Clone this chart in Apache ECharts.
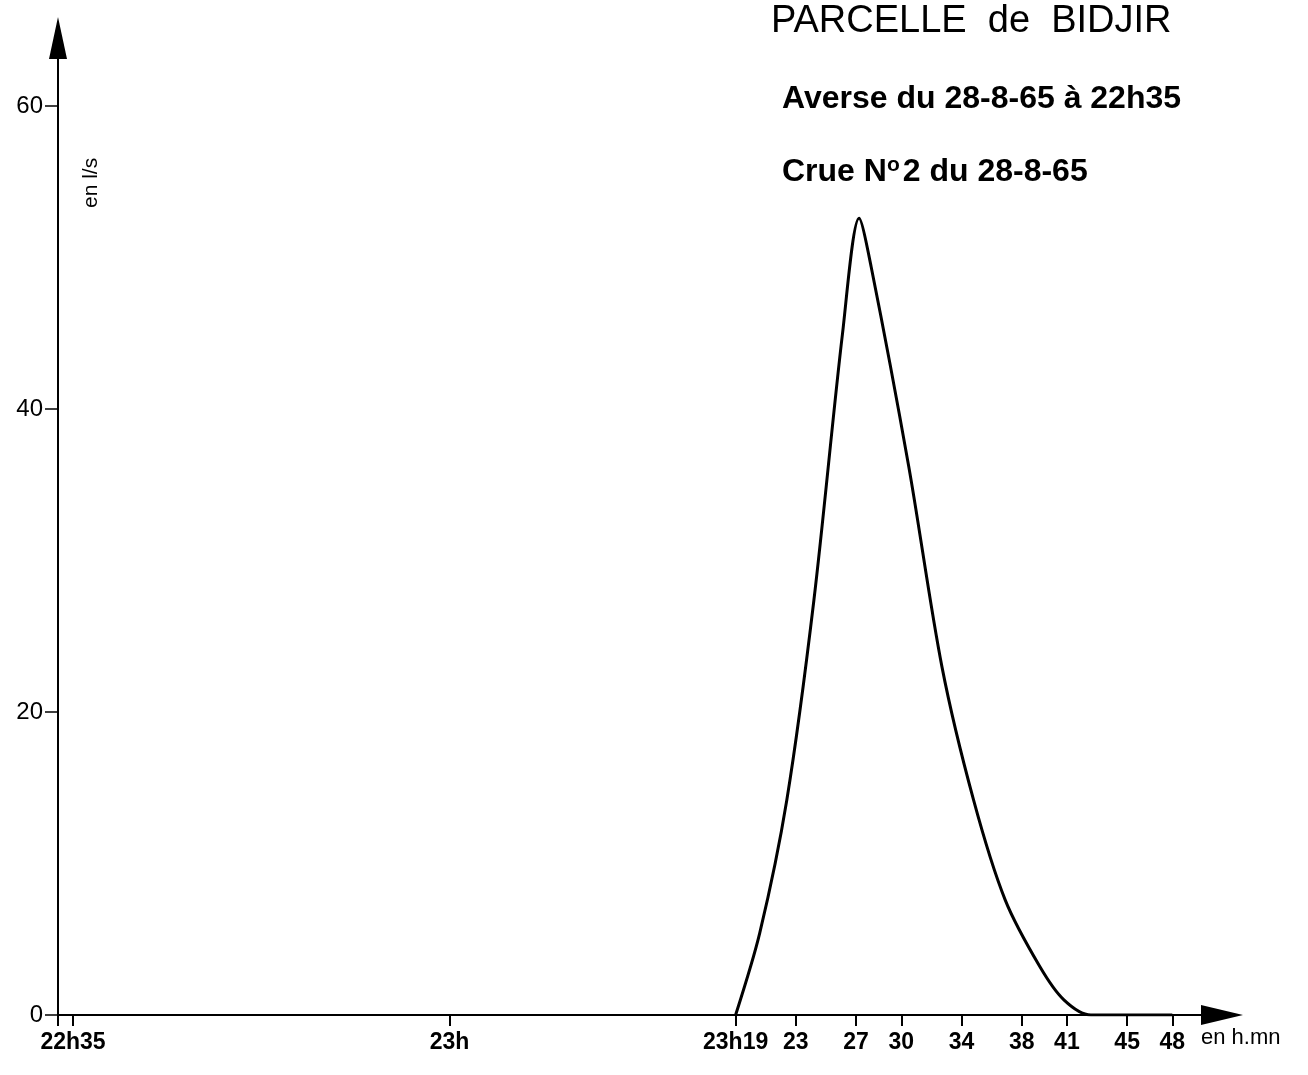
<!DOCTYPE html>
<html>
<head>
<meta charset="utf-8" />
<title>Parcelle de Bidjir</title>
<script src="https://cdn.jsdelivr.net/npm/echarts@6/dist/echarts.min.js"></script>
<style>
  html, body { margin: 0; padding: 0; background: #fff; }
  #chart { width: 1308px; height: 1075px; }
</style>
</head>
<body>
<div id="chart"></div>
<script>
// time in minutes after 22h00, discharge in l/s
var flowMinutes = [79, 80.6, 82.4, 84.2, 86.1, 87.2, 88.0, 90.5, 92.7, 94.8, 96.9, 99.2, 100.8, 102.6, 105, 108];
var flowValues  = [0, 5.4, 14.2, 27.4, 45.0, 52.6, 49.4, 36.2, 23.0, 14.2, 7.6, 3.2, 1.0, 0, 0, 0];

var xTickValues = [34, 35, 60, 79, 83, 87, 90, 94, 98, 101, 105, 108];
var xLabelValues = [35, 60, 79, 83, 87, 90, 94, 98, 101, 105, 108];
var xLabelTexts = ['22h35', '23h', '23h19', '23', '27', '30', '34', '38', '41', '45', '48'];
var yTickValues = [0, 20, 40, 60];

var chart = echarts.init(document.getElementById('chart'));

var data = [];
for (var i = 0; i < flowMinutes.length; i++) {
  data.push([flowMinutes[i], flowValues[i]]);
}

var font = '"Liberation Sans", Arial, sans-serif';

var option = {
  backgroundColor: '#fff',
  animation: false,
  title: [{
    text: 'PARCELLE  de  BIDJIR',
    left: 766, top: -2,
    textStyle: { fontFamily: font, fontSize: 38, fontWeight: 'normal', color: '#000' }
  }, {
    text: 'Averse du 28-8-65 à 22h35',
    left: 777, top: 78,
    textStyle: { fontFamily: font, fontSize: 32, fontWeight: 'bold', color: '#000' }
  }, {
    text: 'Crue N{sup|o}2 du 28-8-65',
    left: 777, top: 150,
    textStyle: {
      fontFamily: font, fontSize: 32, fontWeight: 'bold', color: '#000',
      rich: {
        sup: { fontFamily: font, fontSize: 21, fontWeight: 'bold', color: '#000', verticalAlign: 'top', padding: [0, 3, 14, 0] }
      }
    }
  }],
  graphic: [{
    type: 'text',
    x: 81, y: 208,
    rotation: Math.PI / 2,
    style: { text: 'en l/s', fontFamily: font, fontSize: 21, fill: '#000' }
  }, {
    type: 'text',
    left: 1201, top: 1027,
    style: { text: 'en h.mn', fontFamily: font, fontSize: 22, fill: '#000' }
  }],
  grid: { left: 58, right: 86, top: 38, bottom: 60, containLabel: false },
  xAxis: {
    type: 'value',
    min: 34,
    max: 111.3,
    splitLine: { show: false },
    axisLine: {
      show: true,
      onZero: false,
      symbol: ['none', 'triangle'],
      symbolSize: [20, 42],
      lineStyle: { color: '#000', width: 2 }
    },
    axisTick: {
      show: true, length: 11, inside: false,
      customValues: xTickValues,
      lineStyle: { color: '#000', width: 2 }
    },
    axisLabel: {
      customValues: xLabelValues,
      margin: 16,
      fontFamily: font, fontSize: 23, fontWeight: 'bold', color: '#000',
      formatter: function (v) {
        var k = xLabelValues.indexOf(v);
        return k >= 0 ? xLabelTexts[k] : '';
      }
    }
  },
  yAxis: {
    type: 'value',
    min: 0,
    max: 64.5,
    splitLine: { show: false },
    axisLine: {
      show: true,
      onZero: false,
      symbol: ['none', 'triangle'],
      symbolSize: [18, 42],
      lineStyle: { color: '#000', width: 2 }
    },
    axisTick: {
      show: true, length: 13, inside: false,
      customValues: yTickValues,
      lineStyle: { color: '#000', width: 1.5 }
    },
    axisLabel: {
      customValues: yTickValues,
      margin: 15,
      fontFamily: font, fontSize: 24, color: '#000'
    }
  },
  series: [{
    type: 'line',
    data: data,
    symbol: 'none',
    smooth: 0.3,
    lineStyle: { color: '#000', width: 3 }
  }]
};

chart.setOption(option);
</script>
</body>
</html>
